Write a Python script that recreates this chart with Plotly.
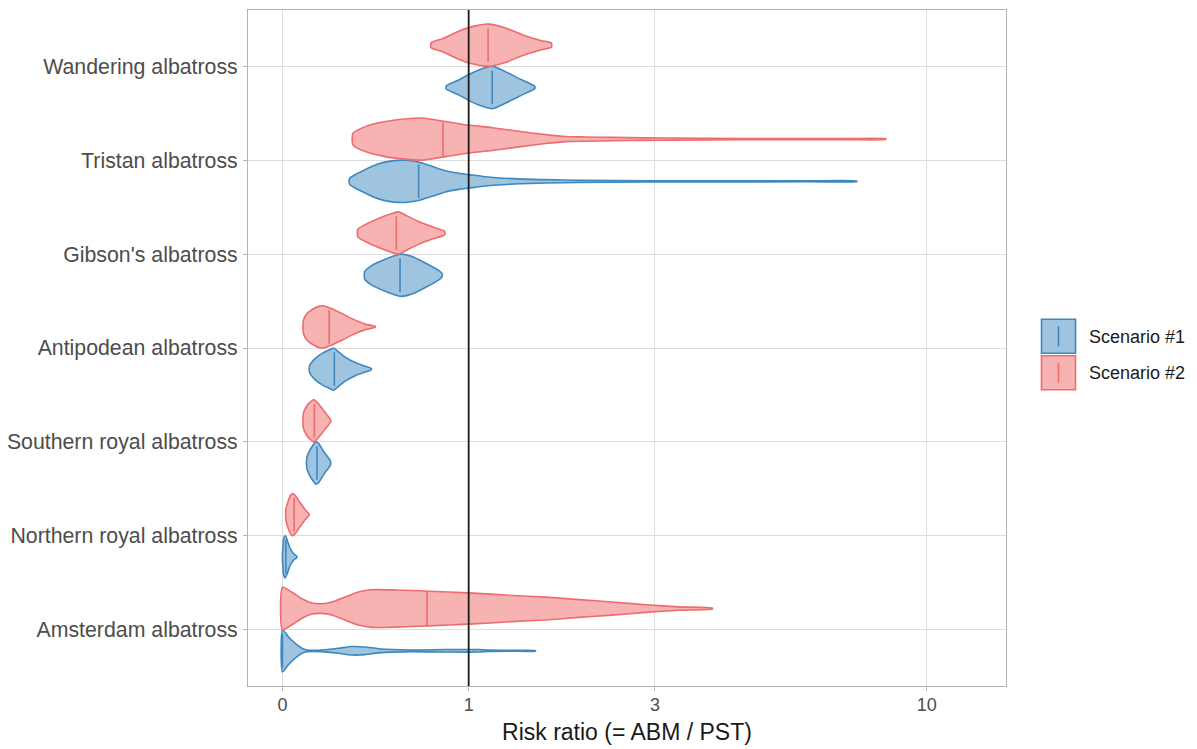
import numpy as np
import plotly.graph_objects as go

# ---------------- data ----------------
SPECIES = ["Wandering albatross", "Tristan albatross", "Gibson's albatross",
           "Antipodean albatross", "Southern royal albatross",
           "Northern royal albatross", "Amsterdam albatross"]
SCENARIOS = ["Scenario #1", "Scenario #2"]
X_TICKS = [0, 1, 3, 10]
X_TICK_LABELS = ["0", "1", "3", "10"]
X_LIMITS = [0, 12]
REFERENCE_RATIO = 1

# violin profiles: risk ratio grid (X) and relative density half-width (W)
WANDERING_S1_X = [0.841, 0.927, 1.0, 1.076, 1.188, 1.293, 1.41, 1.532, 1.557]
WANDERING_S1_W = [0.08, 0.35, 0.61, 0.83, 1.0, 0.75, 0.43, 0.13, 0.06]
WANDERING_S2_X = [0.739, 0.811, 0.927, 1.025, 1.155, 1.293, 1.44, 1.596, 1.695, 1.722]
WANDERING_S2_W = [0.12, 0.3, 0.66, 0.88, 1.0, 0.82, 0.5, 0.25, 0.14, 0.1]

TRISTAN_S1_X = [0.284, 0.345, 0.43, 0.503, 0.579, 0.66, 0.745, 0.834, 0.927, 1.0,
                1.128, 1.351, 1.662, 2.013, 2.864, 4.0, 6.06, 7.48]
TRISTAN_S1_W = [0.14, 0.48, 0.83, 0.97, 1.0, 0.91, 0.71, 0.5, 0.38, 0.32,
                0.22, 0.13, 0.08, 0.05, 0.03, 0.025, 0.02, 0.015]
TRISTAN_S2_X = [0.30, 0.361, 0.466, 0.579, 0.681, 0.834, 0.976, 1.183, 1.41, 1.662,
                1.868, 2.09, 2.413, 2.864, 3.289, 4.5, 6.28, 7.2, 8.45]
TRISTAN_S2_W = [0.27, 0.59, 0.83, 0.95, 1.0, 0.83, 0.68, 0.54, 0.37, 0.21,
                0.12, 0.1, 0.08, 0.06, 0.05, 0.03, 0.03, 0.025, 0.02]

GIBSON_S1_X = [0.358, 0.395, 0.466, 0.541, 0.56, 0.62, 0.702, 0.788, 0.811]
GIBSON_S1_W = [0.17, 0.47, 0.76, 0.98, 1.0, 0.89, 0.58, 0.23, 0.08]
GIBSON_S2_X = [0.324, 0.361, 0.43, 0.503, 0.541, 0.579, 0.66, 0.745, 0.829]
GIBSON_S2_W = [0.18, 0.4, 0.69, 0.92, 1.0, 0.85, 0.54, 0.29, 0.08]

ANTIPODEAN_S1_X = [0.106, 0.129, 0.165, 0.199, 0.209, 0.225, 0.263, 0.311, 0.361, 0.392]
ANTIPODEAN_S1_W = [0.15, 0.5, 0.78, 0.95, 1.0, 0.88, 0.57, 0.31, 0.14, 0.03]
ANTIPODEAN_S2_X = [0.081, 0.095, 0.116, 0.144, 0.161, 0.202, 0.248, 0.295, 0.361, 0.413]
ANTIPODEAN_S2_W = [0.3, 0.62, 0.81, 0.97, 1.0, 0.86, 0.63, 0.39, 0.13, 0.02]

SOUTHERN_S1_X = [0.095, 0.102, 0.116, 0.132, 0.144, 0.165, 0.187, 0.196]
SOUTHERN_S1_W = [0.25, 0.48, 0.77, 1.0, 0.93, 0.56, 0.24, 0.08]
SOUTHERN_S2_X = [0.081, 0.095, 0.109, 0.123, 0.137, 0.165, 0.197]
SOUTHERN_S2_W = [0.35, 0.7, 0.88, 1.0, 0.88, 0.5, 0.03]

NORTHERN_S1_X = [0.0, 0.002, 0.0037, 0.010, 0.0165, 0.029, 0.042, 0.055]
NORTHERN_S1_W = [0.16, 0.48, 0.81, 1.0, 0.84, 0.4, 0.16, 0.03]
NORTHERN_S2_X = [0.0127, 0.0165, 0.029, 0.038, 0.049, 0.068, 0.088, 0.105]
NORTHERN_S2_W = [0.2, 0.45, 0.87, 1.0, 0.9, 0.56, 0.24, 0.02]

AMSTERDAM_S1_X = [0.0, 0.023, 0.049, 0.075, 0.095, 0.158, 0.232, 0.295, 0.361, 0.43,
                  0.62, 0.834, 1.076, 1.155, 1.351, 1.564]
AMSTERDAM_S1_W = [1.0, 0.65, 0.35, 0.12, 0.04, 0.04, 0.12, 0.2, 0.18, 0.1,
                  0.04, 0.06, 0.06, 0.03, 0.02, 0.015]
AMSTERDAM_S2_X = [0.0, 0.036, 0.075, 0.116, 0.158, 0.202, 0.263, 0.327, 0.395, 0.522,
                  0.723, 1.0, 1.351, 1.662, 2.013, 2.413, 2.864, 3.375, 3.954]
AMSTERDAM_S2_W = [1.0, 0.77, 0.46, 0.26, 0.23, 0.31, 0.55, 0.78, 0.89, 0.88,
                  0.82, 0.74, 0.62, 0.54, 0.42, 0.31, 0.18, 0.08, 0.02]

# medians per species (same order as SPECIES)
MEDIAN_S1 = [1.183, 0.66, 0.549, 0.213, 0.137, 0.0127, 0.0]
MEDIAN_S2 = [1.15, 0.818, 0.528, 0.19, 0.126, 0.0445, 0.713]

PROFILES_S1 = [(WANDERING_S1_X, WANDERING_S1_W), (TRISTAN_S1_X, TRISTAN_S1_W),
               (GIBSON_S1_X, GIBSON_S1_W), (ANTIPODEAN_S1_X, ANTIPODEAN_S1_W),
               (SOUTHERN_S1_X, SOUTHERN_S1_W), (NORTHERN_S1_X, NORTHERN_S1_W),
               (AMSTERDAM_S1_X, AMSTERDAM_S1_W)]
PROFILES_S2 = [(WANDERING_S2_X, WANDERING_S2_W), (TRISTAN_S2_X, TRISTAN_S2_W),
               (GIBSON_S2_X, GIBSON_S2_W), (ANTIPODEAN_S2_X, ANTIPODEAN_S2_W),
               (SOUTHERN_S2_X, SOUTHERN_S2_W), (NORTHERN_S2_X, NORTHERN_S2_W),
               (AMSTERDAM_S2_X, AMSTERDAM_S2_W)]

# ---------------- style ----------------
LINE_COLORS = ["#3F88BF", "#EE6B6E"]
FILL_COLORS = ["#9FC4DF", "#F7B2B2"]
DODGE = 0.225
FONT = "Arial, Liberation Sans, Helvetica, sans-serif"


def tr(v):
    return np.log10(1.0 + np.asarray(v, dtype=float))


fig = go.Figure()
n = len(SPECIES)
for s, profiles in enumerate([PROFILES_S1, PROFILES_S2]):
    medians = [MEDIAN_S1, MEDIAN_S2][s]
    off = -DODGE if s == 0 else DODGE
    for i, sp in enumerate(SPECIES):
        ycat = n - i
        c = ycat + off
        xv, wv = profiles[i]
        xs = tr(xv)
        w = np.asarray(wv) * DODGE
        up = c + w
        lo = c - w
        px = np.concatenate([xs, xs[::-1], xs[:1]])
        py = np.concatenate([up, lo[::-1], up[:1]])
        fig.add_trace(go.Scatter(
            x=px, y=py, mode="lines", fill="toself",
            fillcolor=FILL_COLORS[s],
            line=dict(color=LINE_COLORS[s], width=1.6, shape="spline", smoothing=0.6),
            hoverinfo="skip", showlegend=False, name=SCENARIOS[s]))
        fig.add_trace(go.Scatter(
            x=[tr(medians[i])], y=[c], mode="markers",
            marker=dict(symbol="line-ns", size=24,
                        line=dict(color=LINE_COLORS[s], width=1.6)),
            hoverinfo="skip", showlegend=False))

lo_t, hi_t = tr(X_LIMITS[0]), tr(X_LIMITS[1])
span = hi_t - lo_t
x_range = [lo_t - 0.05 * span, hi_t + 0.05 * span]

# reference line at risk ratio 1
fig.add_shape(type="line", x0=tr(REFERENCE_RATIO), x1=tr(REFERENCE_RATIO),
              y0=0, y1=1, yref="paper", line=dict(color="#1A1A1A", width=1.8),
              layer="above")

# ---------------- legend (drawn manually, ggplot-style keys) ----------------
L, R, T, B = 248, 1006, 9.5, 686


def pxx(x):
    return (x - L) / (R - L)


def pxy(y):
    return (B - y) / (B - T)


key_tops = [319, 355.5]
for s in range(2):
    y0, y1 = key_tops[s], key_tops[s] + 34
    fig.add_shape(type="rect", xref="paper", yref="paper",
                  x0=pxx(1041.5), x1=pxx(1075.5), y0=pxy(y1), y1=pxy(y0),
                  fillcolor=FILL_COLORS[s], line=dict(color=LINE_COLORS[s], width=1.6))
    fig.add_shape(type="line", xref="paper", yref="paper",
                  x0=pxx(1058.5), x1=pxx(1058.5), y0=pxy(y0 + 27), y1=pxy(y0 + 7),
                  line=dict(color=LINE_COLORS[s], width=1.6))
    fig.add_annotation(x=pxx(1087), y=pxy(y0 + 17.5), xref="paper", yref="paper",
                       text=SCENARIOS[s], showarrow=False, xanchor="left",
                       yanchor="middle", font=dict(family=FONT, size=18, color="#1A1A1A"))

fig.update_layout(
    width=1197, height=749,
    margin=dict(l=L, r=1197 - R, t=T, b=749 - B),
    paper_bgcolor="white", plot_bgcolor="white",
    showlegend=False,
    font=dict(family=FONT),
    xaxis=dict(
        range=x_range, tickvals=list(tr(X_TICKS)), ticktext=X_TICK_LABELS,
        automargin=False,
        showgrid=True, gridcolor="#DEDEDE", gridwidth=1, zeroline=False,
        showline=True, mirror=True, linecolor="#B3B3B3", linewidth=1,
        ticks="outside", ticklen=4, tickcolor="#B3B3B3", tickwidth=1,
        ticklabelstandoff=-2,
        tickfont=dict(size=18, color="#4D4D4D", family=FONT),
        title=dict(text="Risk ratio (= ABM / PST)", standoff=10,
                   font=dict(size=23, color="#1A1A1A", family=FONT)),
    ),
    yaxis=dict(
        range=[0.4, n + 0.6], tickvals=list(range(n, 0, -1)), ticktext=SPECIES,
        automargin=False,
        showgrid=True, gridcolor="#DEDEDE", gridwidth=1, zeroline=False,
        showline=True, mirror=True, linecolor="#B3B3B3", linewidth=1,
        ticks="outside", ticklen=4, tickcolor="#B3B3B3", tickwidth=1,
        ticklabelstandoff=1,
        tickfont=dict(size=21.3, color="#4D4D4D", family=FONT),
    ),
)

fig.write_html("out.html",
               config={"displayModeBar": False},
               post_script="document.body.style.margin='0';document.body.style.overflow='hidden';")
